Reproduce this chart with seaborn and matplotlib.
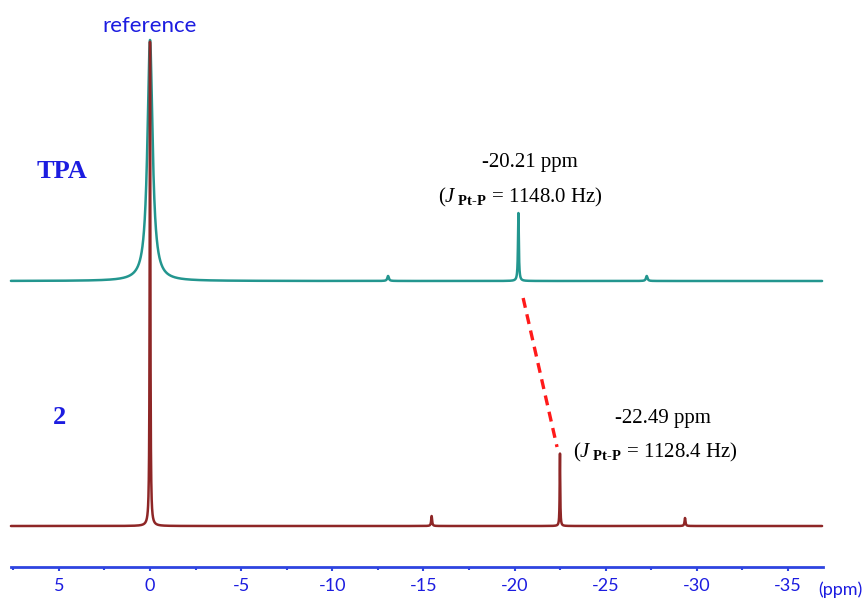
import numpy as np
import pandas as pd
import matplotlib
matplotlib.use("Agg")
import matplotlib.pyplot as plt
import seaborn as sns

# peak lists (ppm, height in px above baseline, half width in ppm)
tpa_shift = [0.0, -13.06, -20.21, -27.25]
tpa_height = [241, 5, 68, 5]
tpa_width = [0.17, 0.05, 0.028, 0.05]

cmpd2_shift = [0.0, -15.45, -22.49, -29.35]
cmpd2_height = [486, 10, 73, 8]
cmpd2_width = [0.022, 0.03, 0.018, 0.03]

tick_values = [5, 0, -5, -10, -15, -20, -25, -30, -35]
tick_labels = ["5", "0", "-5", "-10", "-15", "-20", "-25", "-30", "-35"]

TEAL = "#23968f"
DARKRED = "#8e2626"
BLUE = "#1c1ce0"
AXBLUE = "#2e44e0"


def spectrum(ppm, shifts, heights, widths):
    y = np.zeros_like(ppm)
    for s, h, w in zip(shifts, heights, widths):
        y += h * w ** 2 / ((ppm - s) ** 2 + w ** 2)
    return y


sns.set_style("white")
plt.rcParams["mathtext.fontset"] = "custom"
plt.rcParams["mathtext.rm"] = "Liberation Serif"
plt.rcParams["mathtext.it"] = "Liberation Serif:italic"
plt.rcParams["mathtext.bf"] = "Liberation Serif:bold"

fig = plt.figure(figsize=(8.66, 6.02), dpi=100)
ax = fig.add_axes([0, 0, 1, 1])

ppm = np.linspace(7.63, -36.87, 12000)
df = pd.DataFrame({
    "ppm": np.concatenate([ppm, ppm]),
    "y": np.concatenate([spectrum(ppm, tpa_shift, tpa_height, tpa_width) + 245,
                         spectrum(ppm, cmpd2_shift, cmpd2_height, cmpd2_width)]),
    "sample": ["TPA"] * len(ppm) + ["2"] * len(ppm),
})
sns.lineplot(data=df, x="ppm", y="y", hue="sample", palette={"TPA": TEAL, "2": DARKRED},
             hue_order=["TPA", "2"], lw=1.8, legend=False, ax=ax, sort=False,
             estimator=None)

ax.set_xlim(8.23, -39.28)
ax.set_ylim(-76, 526)

# axis styling
for side in ["top", "left", "right"]:
    ax.spines[side].set_visible(False)
ax.spines["bottom"].set_position(("data", -41))
ax.spines["bottom"].set_color(AXBLUE)
ax.spines["bottom"].set_linewidth(2)
ax.spines["bottom"].set_bounds(7.6, -36.9)
ax.set_xticks(tick_values)
ax.set_xticklabels(tick_labels)
ax.set_xticks(np.arange(7.5, -36.9, -2.5), minor=True)
ax.tick_params(axis="x", which="major", direction="out", length=3, width=1.5,
               color=AXBLUE, labelcolor=BLUE, labelsize=13, pad=5, bottom=True)
ax.tick_params(axis="x", which="minor", direction="out", length=2, width=1.5,
               color=AXBLUE, bottom=True)
for lab in ax.get_xticklabels():
    lab.set_fontfamily("Lato")
ax.set_yticks([])
ax.set_xlabel("")
ax.set_ylabel("")
ax.text(-37.85, -64, "(ppm)", color=BLUE, fontsize=13, family="Lato",
        ha="center", va="center")

# labels
ax.text(0.0, 500, "reference", color=BLUE, fontsize=16, family="Lato",
        ha="center", va="center")
ax.text(4.83, 354, "TPA", color=BLUE, fontsize=19, family="Liberation Serif",
        weight="bold", ha="center", va="center")
ax.text(4.99, 109, "2", color=BLUE, fontsize=19, family="Liberation Serif",
        weight="bold", ha="center", va="center")

serif = dict(color="black", family="Liberation Serif", ha="center", va="center")
ax.text(-20.85, 364, "-20.21 ppm", fontsize=15, **serif)
ax.text(-20.35, 329, "($\\mathit{J}_{\\ \\mathbf{Pt‐P}}$ = 1148.0 Hz)", fontsize=15, **serif)
ax.text(-28.15, 108, "-22.49 ppm", fontsize=15, **serif)
ax.text(-27.75, 74, "($\\mathit{J}_{\\ \\mathbf{Pt‐P}}$ = 1128.4 Hz)", fontsize=15, **serif)

# dashed connector between the two Pt-P signals
ax.plot([-20.47, -22.33], [228, 79], color="#ff1a1a", lw=2.4, ls=(0, (3, 2)))

fig.savefig("out.png", dpi=100)
